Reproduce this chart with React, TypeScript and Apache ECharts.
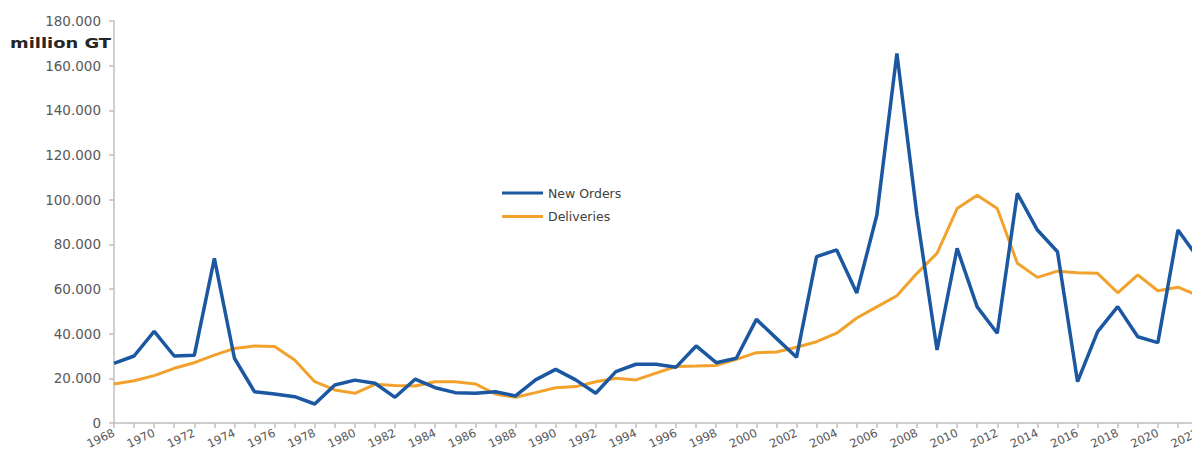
import React, { useEffect, useRef } from "react";
import * as echarts from "echarts";

const years: string[] = [];
for (let y = 1968; y <= 2022; y++) years.push(String(y));

const newOrders = [
  26.7, 30, 41, 30, 30.3, 73.7, 29, 14, 13, 11.8,
  8.5, 17, 19.2, 17.8, 11.5, 19.6, 15.8, 13.6, 13.3, 14,
  12.1, 19.3, 24, 19.3, 13.3, 23, 26.3, 26.3, 25, 34.5,
  27, 29, 46.4, 37.9, 29.4, 74.5, 77.5, 58.2, 93, 165.5,
  93, 32.7, 78.2, 52, 40.2, 102.8, 86.4, 76.7, 18.5, 40.9,
  52.1, 38.6, 36, 86.4, 74,
];

const deliveries = [
  17.5, 18.9, 21.2, 24.5, 27, 30.4, 33.4, 34.5, 34.2, 28.2,
  18.5, 14.8, 13.3, 17.3, 16.8, 16.6, 18.5, 18.5, 17.5, 13,
  11.5, 13.6, 15.8, 16.3, 18.5, 20, 19.3, 22.3, 25.3, 25.5,
  25.8, 28.5, 31.5, 31.8, 33.9, 36.4, 40.2, 47, 52, 57,
  67, 76, 96, 102, 96, 71.5, 65.2, 68, 67.3, 67,
  58.3, 66.3, 59.2, 60.8, 57,
];

const seriesNames = ["New Orders", "Deliveries"];
const yAxisName = "million GT";

const FONT = "DejaVu Sans";

export default function App() {
  const ref = useRef<HTMLDivElement>(null);
  useEffect(() => {
    document.body.style.margin = "0";
    document.body.style.overflow = "hidden";
    const chart = echarts.init(ref.current!, null, { renderer: "svg" });
    chart.setOption({
      animation: false,
      backgroundColor: "#ffffff",
      textStyle: { fontFamily: FONT },
      grid: { left: 114, top: 21, bottom: 37, right: 32 },
      legend: {
        orient: "vertical",
        left: 502,
        top: 186,
        padding: 0,
        icon: "rect",
        itemWidth: 41,
        itemHeight: 3,
        itemGap: 9.5,
        data: seriesNames,
        textStyle: { fontFamily: FONT, fontSize: 12.5, color: "#404040", lineHeight: 14 },
      },
      graphic: [
        {
          type: "text",
          left: 10,
          top: 36,
          scaleX: 1.28,
          style: {
            text: yAxisName,
            font: `bold 14px ${FONT}`,
            fill: "#262626",
          },
        },
      ],
      xAxis: {
        type: "category",
        boundaryGap: false,
        data: years,
        axisLine: { lineStyle: { color: "#bfbfbf", width: 1.5 } },
        axisTick: { show: true, interval: 0, length: 5, lineStyle: { color: "#bfbfbf", width: 1.5 } },
        axisLabel: {
          interval: 1,
          rotate: 25,
          margin: 9,
          fontSize: 11.5,
          fontFamily: FONT,
          color: "#595959",
        },
        splitLine: { show: false },
      },
      yAxis: {
        type: "value",
        min: 0,
        max: 180,
        interval: 20,
        axisLine: { show: true, lineStyle: { color: "#bfbfbf", width: 1.5 } },
        axisTick: { show: true, length: 5, lineStyle: { color: "#bfbfbf", width: 1.5 } },
        axisLabel: {
          margin: 13,
          fontSize: 13.5,
          fontFamily: FONT,
          color: "#595959",
          formatter: (v: number) => (v === 0 ? "0" : v.toFixed(3)),
        },
        splitLine: { show: false },
      },
      series: [
        {
          name: seriesNames[0],
          type: "line",
          data: newOrders,
          showSymbol: false,
          symbol: "none",
          z: 3,
          lineStyle: { color: "#1b58a1", width: 3.5 },
          itemStyle: { color: "#1b58a1" },
        },
        {
          name: seriesNames[1],
          type: "line",
          data: deliveries,
          showSymbol: false,
          symbol: "none",
          z: 2,
          lineStyle: { color: "#f2a22c", width: 3 },
          itemStyle: { color: "#f2a22c" },
        },
      ],
    });
    return () => chart.dispose();
  }, []);
  return (
    <div
      ref={ref}
      style={{ position: "absolute", left: 0, top: 0, width: 1230, height: 460 }}
    />
  );
}
